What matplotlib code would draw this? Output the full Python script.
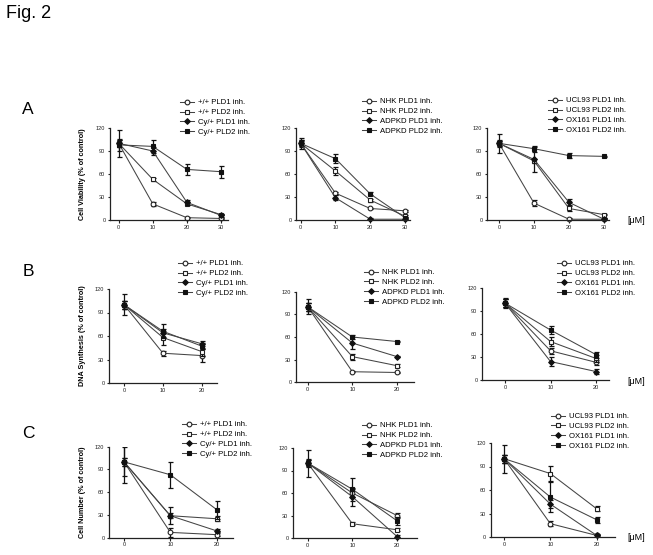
import matplotlib
matplotlib.use('Agg')
import matplotlib.pyplot as plt

plt.rcParams['font.family'] = ['Liberation Sans', 'DejaVu Sans']

# doses (uM)
dose_A = [0, 10, 20, 30]
dose_BC = [0, 10, 20]

# ---- A: cell viability (% of control) ----
a1_labels = ['+/+ PLD1 inh.', '+/+ PLD2 inh.', 'Cy/+ PLD1 inh.', 'Cy/+ PLD2 inh.']
a1_mean = [[100, 21, 3, 2], [100, 53, 21, 7], [100, 90, 23, 6], [98, 96, 66, 63]]
a1_err = [[5, 3, 1, 1], [5, 2, 2, 1], [18, 5, 3, 2], [8, 8, 7, 8]]

a2_labels = ['NHK PLD1 inh.', 'NHK PLD2 inh.', 'ADPKD PLD1 inh.', 'ADPKD PLD2 inh.']
a2_mean = [[100, 35, 15, 12], [100, 64, 26, 5], [100, 29, 1, 1], [100, 80, 34, 3]]
a2_err = [[5, 2, 1, 1], [4, 5, 2, 1], [3, 3, 1, 1], [7, 6, 2, 1]]

a3_labels = ['UCL93 PLD1 inh.', 'UCL93 PLD2 inh.', 'OX161 PLD1 inh.', 'OX161 PLD2 inh.']
a3_mean = [[100, 22, 1, 1], [100, 77, 15, 7], [100, 79, 23, 1], [100, 93, 84, 83]]
a3_err = [[3, 4, 1, 1], [3, 3, 3, 1], [12, 16, 4, 1], [5, 4, 3, 1]]

# ---- B: DNA synthesis (% of control) ----
b1_mean = [[100, 38, 35], [100, 58, 40], [100, 64, 50], [100, 66, 47]]
b1_err = [[5, 3, 8], [5, 9, 5], [13, 5, 3], [5, 9, 4]]

b2_mean = [[100, 14, 13], [100, 34, 22], [100, 52, 34], [100, 60, 54]]
b2_err = [[5, 1, 1], [5, 4, 2], [10, 8, 1], [5, 2, 1]]

b3_mean = [[100, 38, 23], [100, 50, 28], [100, 24, 11], [100, 65, 33]]
b3_err = [[5, 4, 3], [5, 6, 4], [7, 6, 3], [5, 5, 4]]

# ---- C: cell number (% of control) ----
c1_mean = [[100, 7, 4], [100, 29, 25], [100, 29, 9], [100, 83, 37]]
c1_err = [[19, 6, 2], [5, 3, 3], [28, 11, 2], [5, 17, 12]]

c2_mean = [[100, 60, 30], [100, 19, 11], [100, 55, 2], [100, 65, 23]]
c2_err = [[4, 5, 3], [4, 2, 2], [5, 12, 2], [18, 15, 5]]

c3_mean = [[100, 17, 2], [100, 81, 36], [100, 42, 2], [100, 51, 22]]
c3_err = [[5, 3, 1], [5, 10, 3], [18, 5, 2], [5, 19, 4]]

W, H = 653, 555
fig = plt.figure(figsize=(W / 100, H / 100), dpi=100)

# marker styles, GraphPad-like
styles = [dict(marker='o', mfc='white', mec='#222222', ms=3.4),
          dict(marker='s', mfc='white', mec='#222222', ms=3.4),
          dict(marker='D', mfc='#111111', mec='#111111', ms=2.9),
          dict(marker='s', mfc='#111111', mec='#111111', ms=3.4)]

# layout in pixels: y-axis x, x=0 tick, last tick, x-axis end, top, bottom, legend x, legend top
panels = [
    (dose_A, a1_mean, a1_err, a1_labels, (110, 118.7, 221, 228, 128, 220), (180, 99), 'Cell Viability (% of control)', False),
    (dose_A, a2_mean, a2_err, a2_labels, (296, 300.7, 405, 410, 128, 220), (362, 98), None, False),
    (dose_A, a3_mean, a3_err, a3_labels, (487, 499, 604, 609, 128, 220), (548, 97), None, True),
    (dose_BC, b1_mean, b1_err, a1_labels, (109, 124, 202, 217, 289, 383), (178, 260), 'DNA Synthesis (% of control)', False),
    (dose_BC, b2_mean, b2_err, a2_labels, (296, 307.7, 397, 414, 291.7, 382.3), (364, 269), None, False),
    (dose_BC, b3_mean, b3_err, a3_labels, (482, 505, 596, 609, 287.7, 380), (557, 260), None, True),
    (dose_BC, c1_mean, c1_err, a1_labels, (109, 124, 216.7, 233, 446.7, 537.7), (182, 421), 'Cell Number (% of control)', False),
    (dose_BC, c2_mean, c2_err, a2_labels, (293, 307.7, 397, 417, 448, 538), (362, 422), None, False),
    (dose_BC, c3_mean, c3_err, a3_labels, (490.7, 504, 596.7, 615, 443, 537), (551, 413), None, True),
]

for dose, means, errs, labels, (yax, x0, xm, xend, top, bot), (lx, ly), ylab, unit in panels:
    ax = fig.add_axes([yax / W, 1 - bot / H, (xend - yax) / W, (bot - top) / H])
    scale = (xm - x0) / dose[-1]
    ax.set_xlim((yax - x0) / scale, (xend - x0) / scale)
    ax.set_ylim(0, 120)
    for m, e, lab, st in zip(means, errs, labels, styles):
        ax.errorbar(dose, m, yerr=e, fmt='none', ecolor='#111111', elinewidth=0.9,
                    capsize=1.8, capthick=0.9)
        ax.plot(dose, m, color='#444444', lw=0.75, mew=0.8, label=lab, clip_on=False, **st)
    ax.set_xticks(dose)
    ax.set_yticks([0, 30, 60, 90, 120])
    ax.tick_params(labelsize=4.1, length=1.8, width=0.8, pad=1.5, colors='#222222')
    for s in ['top', 'right']:
        ax.spines[s].set_visible(False)
    for s in ['left', 'bottom']:
        ax.spines[s].set_linewidth(0.9)
        ax.spines[s].set_color('#222222')
    if ylab:
        ax.set_ylabel(ylab, fontsize=5.2, fontweight='bold')
        ax.yaxis.set_label_coords((86 - yax) / (xend - yax), 0.5)
    ax.legend(loc='upper left', bbox_to_anchor=(lx / W, 1 - ly / H),
              bbox_transform=fig.transFigure, frameon=False, fontsize=5.6,
              handlelength=1.8, handletextpad=0.5, labelspacing=0.3,
              borderpad=0, borderaxespad=0, markerscale=1.0)
    if unit:
        fig.text(627 / W, 1 - (bot + 1) / H, '[\u03bcM]', fontsize=6.5, va='center', ha='left')

fig.text(6 / W, 1 - 14 / H, 'Fig. 2', fontsize=13, va='center', ha='left')
for letter, yc in [('A', 109), ('B', 272), ('C', 434)]:
    fig.text(28 / W, 1 - yc / H, letter, fontsize=12.5, va='center', ha='center')

fig.savefig('out.png', dpi=100)
